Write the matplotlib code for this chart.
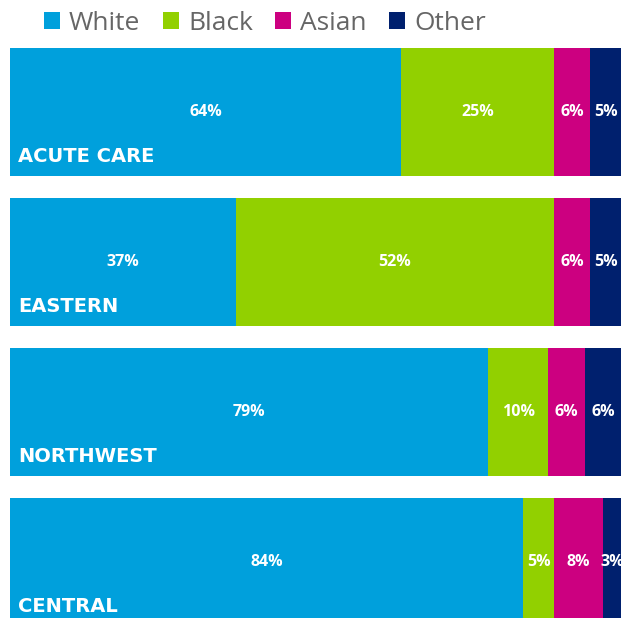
import numpy as np
import matplotlib.pyplot as plt
from matplotlib.patches import Patch

regions = ["ACUTE CARE", "EASTERN", "NORTHWEST", "CENTRAL"]
groups = ["White", "Black", "Asian", "Other"]
white = [64, 37, 79, 84]
black = [25, 52, 10, 5]
asian = [6, 6, 6, 8]
other = [5, 5, 6, 3]
colors = ["#00A0DC", "#92D000", "#CC0080", "#00206E"]

series = np.array([white, black, asian, other], dtype=float)
# rows are drawn full width, so scale each row by its total (rounding)
totals = series.sum(axis=0)

fig = plt.figure(figsize=(6.21, 6.18), dpi=100)
ax = fig.add_axes([10 / 621, 0, 611 / 621, 1])

y = np.arange(len(regions))
h = 0.853
left = np.zeros(len(regions))
for vals, c in zip(series, colors):
    w = vals / totals * 100
    ax.barh(y, w, left=left, height=h, color=c, edgecolor="none")
    for yi, l, wi, v in zip(y, left, w, vals):
        ax.text(l + wi / 2, yi, f"{int(v)}%", ha="center", va="center",
                color="white", fontsize=11.5, fontweight="bold",
                family="Open Sans", clip_on=False)
    left = left + w

for yi, name in zip(y, regions):
    ax.annotate(name, xy=(0, yi + h / 2), xytext=(6, 10),
                textcoords="offset points", ha="left", va="baseline",
                color="white", fontsize=14, fontweight="bold",
                family="DejaVu Sans", annotation_clip=False)

ax.set_xlim(0, 100)
ax.set_ylim(3.373, -0.747)
ax.axis("off")

handles = [Patch(facecolor=c, edgecolor="none") for c in colors]
leg = fig.legend(handles, groups, loc="center", bbox_to_anchor=(265 / 621, 1 - 23 / 618),
                 ncol=4, frameon=False, handlelength=0.6,
                 handleheight=0.6, handletextpad=0.35, columnspacing=0.85,
                 borderpad=0, prop={"family": "Open Sans", "size": 19})
for t in leg.get_texts():
    t.set_color("#666666")

fig.savefig("out.png", dpi=100)
